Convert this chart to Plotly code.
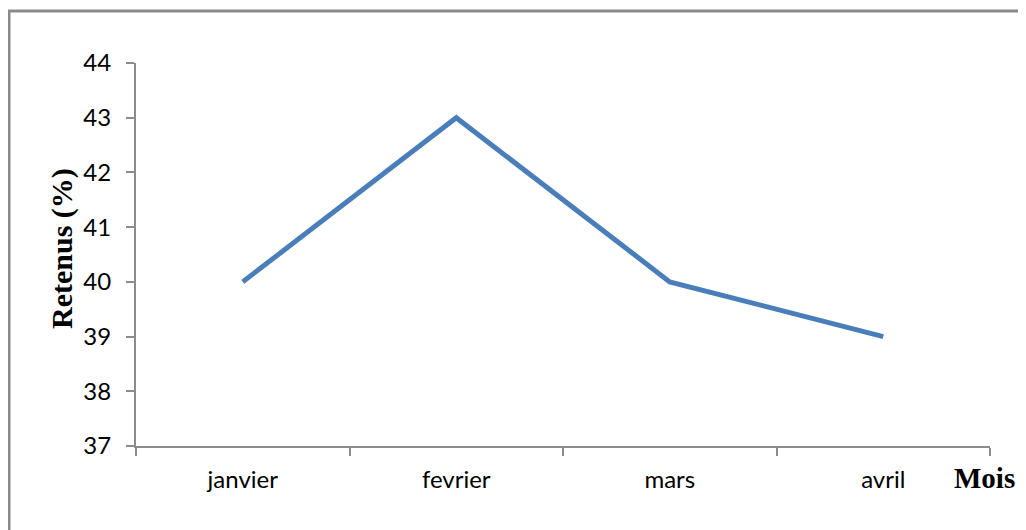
import plotly.graph_objects as go

mois = ["janvier", "fevrier", "mars", "avril"]
retenus = [40, 43, 40, 39]
y_ticks = [37, 38, 39, 40, 41, 42, 43, 44]

# page body has an 8px margin; work in page pixels and convert
OFF = 8
W, H = 1026 - OFF, 530 - OFF
L, R, T, B = 136 - OFF, 36, 63 - OFF, 84
pw, ph = W - L - R, H - T - B

fig = go.Figure()
fig.add_trace(go.Scatter(
    x=mois, y=retenus, mode="lines",
    line=dict(color="#4A7EBB", width=5),
    showlegend=False, hoverinfo="skip",
))

axis_col = "#8C8C8C"
tick_font = dict(family="Lato, Open Sans, sans-serif", size=24, color="black")
fig.update_xaxes(
    type="category", range=[-0.5, 3.5],
    showline=True, linecolor=axis_col, linewidth=2,
    ticks="outside", tickson="boundaries", ticklen=8, tickwidth=2, tickcolor=axis_col,
    showgrid=False, zeroline=False,
    tickfont=tick_font,
    ticklabelstandoff=11,
)
fig.update_yaxes(
    range=[37, 44], tickvals=y_ticks,
    showline=True, linecolor=axis_col, linewidth=2,
    ticks="outside", ticklen=8, tickwidth=2, tickcolor=axis_col,
    showgrid=False, zeroline=False,
    tickfont=tick_font,
    ticklabelstandoff=10,
)

def px_x(p):
    return (p - OFF - L) / pw

def px_y(p):
    return (H - B - (p - OFF)) / ph

# Outer chart border
fig.add_shape(type="rect", xref="paper", yref="paper",
              x0=px_x(9), x1=px_x(1040), y0=px_y(545), y1=px_y(11),
              line=dict(color="#898989", width=3), fillcolor="rgba(0,0,0,0)",
              layer="below")

fig.add_annotation(
    text="<b>Retenus (%)</b>", xref="paper", yref="paper",
    x=px_x(62), y=px_y(249), xanchor="center", yanchor="middle",
    textangle=-90, showarrow=False,
    font=dict(family="Liberation Serif, Times New Roman, serif", size=30, color="black"),
)
fig.add_annotation(
    text="<b>Mois</b>", xref="paper", yref="paper",
    x=px_x(984), y=px_y(478), xanchor="center", yanchor="middle",
    showarrow=False,
    font=dict(family="Liberation Serif, Times New Roman, serif", size=29, color="black"),
)

fig.update_layout(
    width=W, height=H,
    margin=dict(l=L, r=R, t=T, b=B),
    paper_bgcolor="white", plot_bgcolor="white",
)

fig.write_html("out.html")
